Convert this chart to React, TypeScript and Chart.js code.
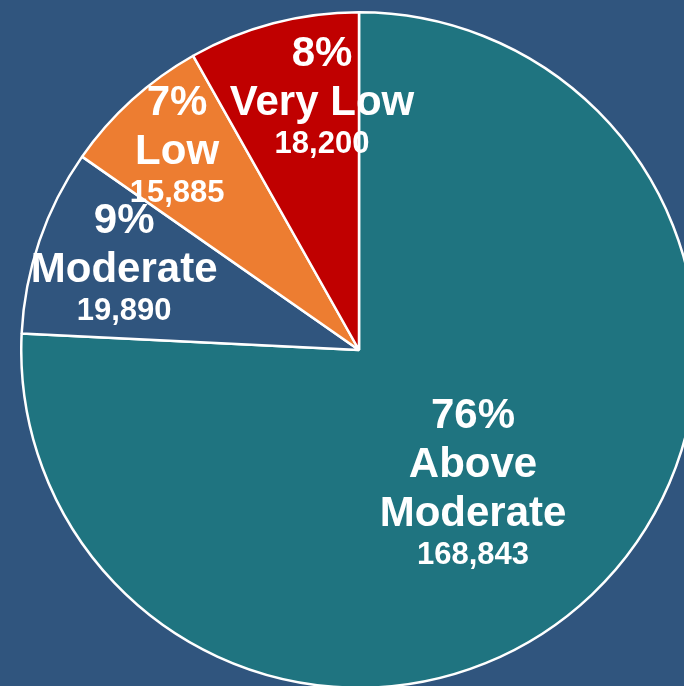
import React, { useEffect, useRef } from "react";
import { Chart, registerables } from "chart.js";

Chart.register(...registerables);

const categories = ["Above Moderate", "Moderate", "Low", "Very Low"];
const categoryLines = [["Above", "Moderate"], ["Moderate"], ["Low"], ["Very Low"]];
const values = [168843, 19890, 15885, 18200];
const colors = ["#1F7480", "#30557E", "#ED7D31", "#C00000"];
// label anchor: angle shift (deg) from slice middle, and radius fraction
const labelAngleShift = [2.46, 1.88, 0.84, 6.46];
const labelRadiusFrac = [0.513, 0.7435, 0.8145, 0.764];

const BG = "#30557E";
const FONT = "'Liberation Sans', Arial, sans-serif";
const BIG = 42;
const SMALL = 31;
const BIG_STEP = 49;
const SMALL_STEP = 38;
const CAP = 0.716;

const labelPlugin = {
  id: "sliceLabels",
  afterDatasetsDraw(chart: any) {
    const ctx = chart.ctx;
    const meta = chart.getDatasetMeta(0);
    const data = chart.data.datasets[0].data as number[];
    const total = data.reduce((a, b) => a + b, 0);
    ctx.save();
    ctx.fillStyle = "#ffffff";
    ctx.textAlign = "center";
    ctx.textBaseline = "alphabetic";
    meta.data.forEach((arc: any, i: number) => {
      const { x, y, startAngle, endAngle, outerRadius } = arc.getProps(
        ["x", "y", "startAngle", "endAngle", "outerRadius"],
        true
      );
      const mid = (startAngle + endAngle) / 2 + (labelAngleShift[i] * Math.PI) / 180;
      const r = outerRadius * labelRadiusFrac[i];
      const ax = x + Math.cos(mid) * r;
      const ay = y + Math.sin(mid) * r;
      const lines: { t: string; s: number }[] = [];
      lines.push({ t: Math.round((data[i] / total) * 100) + "%", s: BIG });
      categoryLines[i].forEach((t) => lines.push({ t, s: BIG }));
      lines.push({ t: data[i].toLocaleString("en-US"), s: SMALL });
      const baselines: number[] = [0];
      for (let k = 1; k < lines.length; k++) {
        baselines.push(baselines[k - 1] + (lines[k].s === SMALL ? SMALL_STEP : BIG_STEP));
      }
      const top = -BIG * CAP;
      const bottom = baselines[baselines.length - 1];
      const shift = ay - (top + bottom) / 2;
      lines.forEach((ln, k) => {
        ctx.font = `bold ${ln.s}px ${FONT}`;
        ctx.fillText(ln.t, ax, baselines[k] + shift);
      });
    });
    ctx.restore();
  },
};

export default function App() {
  const ref = useRef<HTMLCanvasElement | null>(null);
  useEffect(() => {
    if (!ref.current) return;
    const chart = new Chart(ref.current, {
      type: "pie",
      data: {
        labels: categories,
        datasets: [
          {
            data: values,
            backgroundColor: colors,
            borderColor: "#ffffff",
            borderWidth: 2.5,
          },
        ],
      },
      options: {
        responsive: false,
        animation: false,
        layout: { padding: 0 },
        plugins: {
          legend: { display: false },
          tooltip: { enabled: false },
        },
      },
      plugins: [labelPlugin],
    });
    return () => chart.destroy();
  }, []);
  return (
    <div
      style={{
        position: "fixed",
        left: 0,
        top: 0,
        width: "100vw",
        height: "100vh",
        background: BG,
        overflow: "hidden",
      }}
    >
      <canvas
        ref={ref}
        width={678}
        height={678}
        style={{ position: "absolute", left: 20, top: 11, width: 678, height: 678 }}
      />
    </div>
  );
}
